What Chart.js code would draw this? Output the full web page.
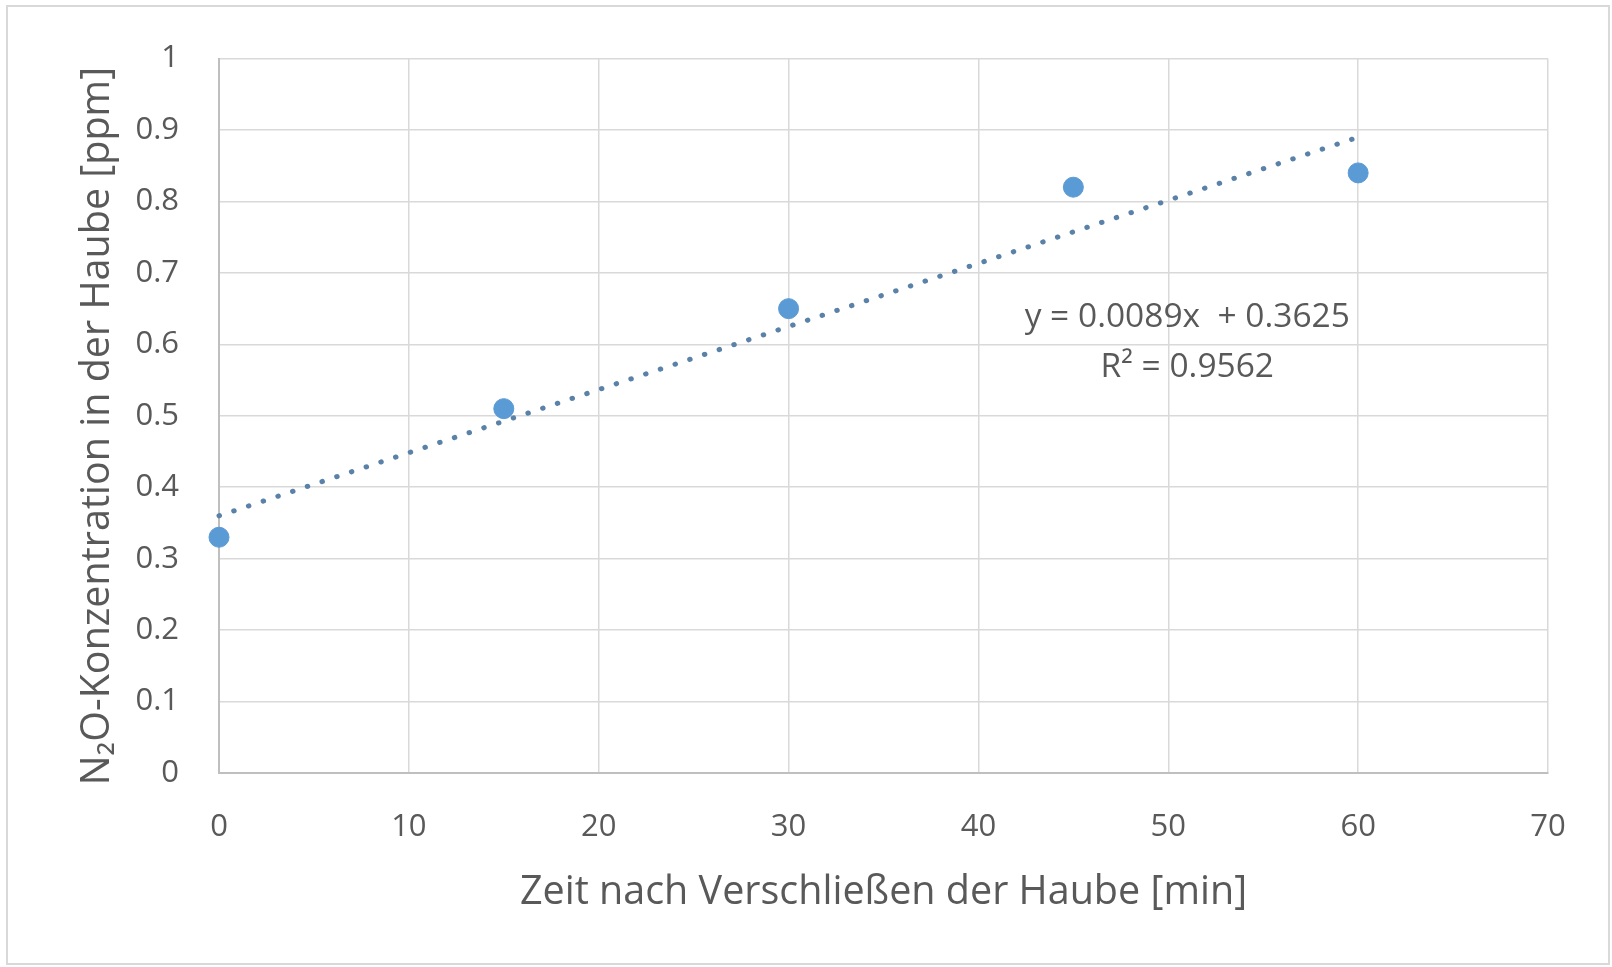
<!DOCTYPE html>
<html>
<head>
<meta charset="utf-8">
<script src="https://cdn.jsdelivr.net/npm/chart.js@4"></script>
<style>
  html, body { margin: 0; padding: 0; background: #fff; }
  #wrap { width: 1612px; height: 967px; }
</style>
</head>
<body>
<div id="wrap"><canvas id="n2oChart" width="1612" height="967"></canvas></div>
<script>
// measured N2O values in the chamber
const timeMin = [0, 15, 30, 45, 60];
const n2oPpm = [0.33, 0.51, 0.65, 0.82, 0.84];
// linear trendline (ends at x=0 and x=60)
const trendX = [0, 60];
const trendY = [0.36, 0.89];
const equationLines = ['y = 0.0089x  + 0.3625', 'R\u00b2 = 0.9562'];

const textColor = '#595959';
const gridColor = '#d9d9d9';
const fontFamily = "'Open Sans', 'DejaVu Sans', sans-serif";

const framePlugin = {
  id: 'frame',
  beforeDraw(chart) {
    const c = chart.ctx;
    c.save();
    c.fillStyle = '#fff';
    c.fillRect(0, 0, chart.width, chart.height);
    c.strokeStyle = '#d9d9d9';
    c.lineWidth = 2;
    c.strokeRect(7, 6, 1602, 958);
    c.restore();
  }
};

const equationPlugin = {
  id: 'equation',
  afterDatasetsDraw(chart) {
    const c = chart.ctx;
    const xs = chart.scales.x, ys = chart.scales.y;
    c.save();
    c.fillStyle = textColor;
    c.font = "33.5px " + fontFamily;
    c.textAlign = 'center';
    c.textBaseline = 'middle';
    c.fillText(equationLines[0], xs.getPixelForValue(51), ys.getPixelForValue(0.638));
    c.fillText(equationLines[1], xs.getPixelForValue(51), ys.getPixelForValue(0.567));
    c.restore();
  }
};

const ctx = document.getElementById('n2oChart').getContext('2d');
new Chart(ctx, {
  type: 'scatter',
  data: {
    datasets: [{
      label: 'N2O',
      data: timeMin.map((t, i) => ({ x: t, y: n2oPpm[i] })),
      backgroundColor: '#5b9bd5',
      borderColor: '#5b9bd5',
      pointRadius: 10,
      pointHoverRadius: 10,
      clip: false,
      order: 1
    }, {
      label: 'Trend',
      data: trendX.map((t, i) => ({ x: t, y: trendY[i] })),
      showLine: true,
      borderColor: '#5a82a8',
      borderWidth: 5,
      borderDash: [0.5, 15],
      borderCapStyle: 'round',
      pointRadius: 0,
      clip: false,
      order: 2
    }]
  },
  options: {
    responsive: false,
    animation: false,
    layout: { padding: { top: 55, right: 64, left: 0, bottom: 0 } },
    scales: {
      x: {
        type: 'linear',
        min: 0,
        max: 70,
        ticks: { stepSize: 10, color: textColor, padding: 36, font: { size: 31, family: fontFamily } },
        grid: { color: gridColor, lineWidth: 1.5, drawTicks: false },
        border: { color: '#bfbfbf', width: 2 },
        title: {
          display: true,
          text: 'Zeit nach Verschlie\u00dfen der Haube [min]',
          color: textColor,
          font: { size: 39.5, family: fontFamily },
          padding: { top: 0, bottom: 51 }
        },
        afterFit(scale) { scale.height = 194; }
      },
      y: {
        min: 0,
        max: 1,
        ticks: {
          stepSize: 0.1,
          color: textColor,
          padding: 40,
          font: { size: 31, family: fontFamily },
          callback: v => String(Number(v.toFixed(1)))
        },
        grid: { color: gridColor, lineWidth: 1.5, drawTicks: false },
        border: { color: '#bfbfbf', width: 2 },
        title: {
          display: true,
          // trailing spaces nudge the rotated title a bit lower, like the original
          text: 'N\u2082O-Konzentration in der Haube [ppm]\u00a0\u00a0',
          color: textColor,
          font: { size: 39.5, family: fontFamily },
          padding: { top: 74, bottom: 0 }
        },
        afterFit(scale) { scale.width = 219; }
      }
    },
    plugins: {
      legend: { display: false },
      tooltip: { enabled: false }
    }
  },
  plugins: [framePlugin, equationPlugin]
});
</script>
</body>
</html>
